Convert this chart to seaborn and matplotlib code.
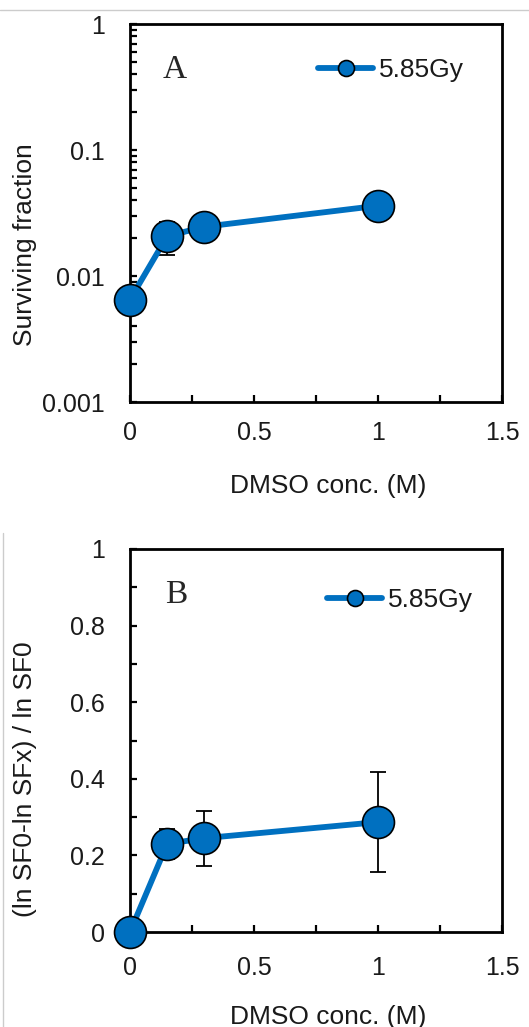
import numpy as np
import pandas as pd
import matplotlib
matplotlib.use("Agg")
import matplotlib.pyplot as plt
from matplotlib.lines import Line2D
from matplotlib.ticker import FixedLocator, FixedFormatter, LogLocator, NullFormatter, MultipleLocator
import seaborn as sns

# ---- data ----
dmso = [0.0, 0.15, 0.3, 1.0]
sf = [0.0065, 0.0207, 0.0246, 0.0361]
sf_err = [0.0008, 0.006, 0.004, 0.004]
ratio = [0.0, 0.23, 0.245, 0.287]
ratio_err = [0.0, 0.04, 0.072, 0.13]
series_label = "5.85Gy"
xlabel = "DMSO conc. (M)"
ylabel_a = "Surviving fraction"
ylabel_b = "(ln SF0-ln SFx) / ln SF0"
x_ticks = [0, 0.5, 1, 1.5]
x_tick_labels = ["0", "0.5", "1", "1.5"]
ya_ticks = [0.001, 0.01, 0.1, 1]
ya_tick_labels = ["0.001", "0.01", "0.1", "1"]
yb_ticks = [0, 0.2, 0.4, 0.6, 0.8, 1.0]
yb_tick_labels = ["0", "0.2", "0.4", "0.6", "0.8", "1"]

sns.set_theme(style="ticks")
plt.rcParams["font.family"] = ["Liberation Sans", "DejaVu Sans"]

W, H = 529, 1027
fig = plt.figure(figsize=(W / 100, H / 100), dpi=100)
BLUE = "#0070C0"

def fx(px):
    return px / W

def fy(py):
    return 1 - py / H

axA = fig.add_axes([fx(130), fy(402), fx(502) - fx(130), fy(24) - fy(402)])
axB = fig.add_axes([fx(130), fy(932), fx(502) - fx(130), fy(549) - fy(932)])

dfA = pd.DataFrame({"x": dmso, "y": sf})
dfB = pd.DataFrame({"x": dmso, "y": ratio})

for ax, df, err in [(axA, dfA, sf_err), (axB, dfB, ratio_err)]:
    ax.errorbar(df["x"], df["y"], yerr=err, fmt="none", ecolor="black",
                elinewidth=1.3, capsize=6, capthick=1.3, zorder=2)
    sns.lineplot(data=df, x="x", y="y", ax=ax, color=BLUE, linewidth=4.2,
                 marker="o", markersize=23, markerfacecolor=BLUE,
                 markeredgecolor="black", markeredgewidth=1.2,
                 label=series_label, zorder=3, errorbar=None, sort=False)
    for s in ax.spines.values():
        s.set_linewidth(2)
        s.set_color("black")
        s.set_visible(True)
    ax.set_xlim(0, 1.5)
    ax.xaxis.set_major_locator(FixedLocator(x_ticks))
    ax.xaxis.set_major_formatter(FixedFormatter(x_tick_labels))
    ax.xaxis.set_minor_locator(MultipleLocator(0.25))
    ax.tick_params(axis="both", which="both", direction="in", length=5,
                   width=1.6, color="black", top=False, right=False)
    ax.tick_params(axis="x", which="major", labelsize=18, pad=14, labelcolor="#1a1a1a")
    ax.tick_params(axis="y", which="major", labelsize=18, pad=18, labelcolor="#1a1a1a")
    ax.set_xlabel("")
    ax.set_ylabel("")
    ax.set_facecolor("white")
    for m in ax.lines:
        m.set_clip_on(False)

axA.set_yscale("log")
axA.set_ylim(0.001, 1)
axA.yaxis.set_major_locator(FixedLocator(ya_ticks))
axA.yaxis.set_major_formatter(FixedFormatter(ya_tick_labels))
axA.yaxis.set_minor_locator(LogLocator(base=10, subs=np.arange(2, 10)))
axA.yaxis.set_minor_formatter(NullFormatter())

axB.set_ylim(0, 1)
axB.yaxis.set_major_locator(FixedLocator(yb_ticks))
axB.yaxis.set_major_formatter(FixedFormatter(yb_tick_labels))
axB.yaxis.set_minor_locator(MultipleLocator(0.1))
axB.tick_params(axis="x", which="major", pad=17)

# legends
for ax, lx, ly in [(axA, (318 - 130) / 372, (402 - 70) / 378),
                   (axB, (327 - 130) / 372, (932 - 600) / 383)]:
    leg = ax.legend(loc="center left", bbox_to_anchor=(lx, ly), frameon=False,
                    fontsize=19, markerscale=0.5, handlelength=2.1,
                    handletextpad=0.2, borderpad=0, borderaxespad=0)
    for t in leg.get_texts():
        t.set_color("#1a1a1a")

# panel letters
axA.text((175 - 130) / 372, (402 - 70) / 378, "A", transform=axA.transAxes,
         ha="center", va="center", fontsize=24, family="Liberation Serif")
axB.text((176 - 130) / 372, (932 - 595) / 383, "B", transform=axB.transAxes,
         ha="center", va="center", fontsize=24, family="Liberation Serif")

# axis labels
fig.text(fx(328), fy(493), xlabel, ha="center", va="baseline", fontsize=19, color="#1a1a1a")
fig.text(fx(328), fy(1024), xlabel, ha="center", va="baseline", fontsize=19, color="#1a1a1a")
fig.text(fx(25), fy(245), ylabel_a, ha="center", va="center", rotation=90, fontsize=19, color="#1a1a1a")
fig.text(fx(25), fy(779), ylabel_b, ha="center", va="center", rotation=90, fontsize=19, color="#1a1a1a")

# faint page-edge lines from the source
fig.add_artist(Line2D([0, 1], [fy(10), fy(10)], transform=fig.transFigure,
                      color="#cccccc", linewidth=1))
fig.add_artist(Line2D([fx(3), fx(3)], [fy(533), 0], transform=fig.transFigure,
                      color="#cccccc", linewidth=1))

fig.savefig("out.png", dpi=100, facecolor="white")
